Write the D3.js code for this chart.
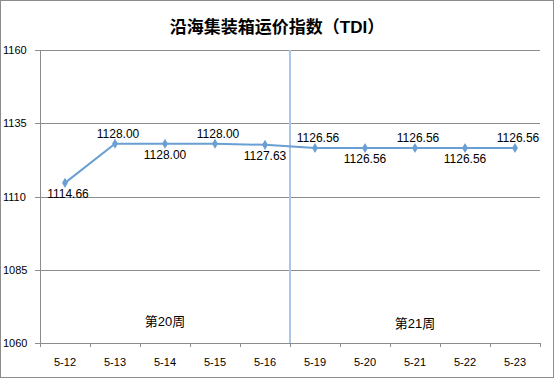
<!DOCTYPE html>
<html>
<head>
<meta charset="utf-8">
<script src="https://cdn.jsdelivr.net/npm/d3@7"></script>
<style>
  body { margin: 0; background: #fff; }
  text { font-family: "Liberation Sans", "Noto Sans CJK SC", sans-serif; fill: #000; }
</style>
</head>
<body>
<div id="chart-area"></div>
<script>
var dates = ["5-12", "5-13", "5-14", "5-15", "5-16", "5-19", "5-20", "5-21", "5-22", "5-23"];
var values = [1114.66, 1128.00, 1128.00, 1128.00, 1127.63, 1126.56, 1126.56, 1126.56, 1126.56, 1126.56];
var labelSide = ["below", "above", "below", "above", "below", "above", "below", "above", "below", "above"];
var yTicks = [1060, 1085, 1110, 1135, 1160];
var weeks = [{name: "第20周", from: "5-12", to: "5-16"}, {name: "第21周", from: "5-19", to: "5-23"}];

var width = 554;
var height = 378;
var plot = {left: 40, right: 540, top: 50, bottom: 343};
var lineColor = "#6a9fd4";

var svg = d3.select("#chart-area")
    .append("svg")
    .attr("width", width)
    .attr("height", height);

// outer border
svg.append("rect")
    .attr("x", 0.5).attr("y", 0.5)
    .attr("width", width - 1).attr("height", height - 1)
    .attr("fill", "none")
    .attr("stroke", "#8c8c8c");

svg.append("text")
    .attr("x", 277)
    .attr("y", 33)
    .attr("text-anchor", "middle")
    .attr("font-size", "17px")
    .attr("font-weight", "bold")
    .text("沿海集装箱运价指数（TDI）");

var x = d3.scaleBand()
    .domain(dates)
    .range([plot.left, plot.right]);

var y = d3.scaleLinear()
    .domain([1060, 1160])
    .range([plot.bottom, plot.top]);

// gridlines
svg.selectAll(".grid")
    .data(yTicks)
    .enter().append("line")
    .attr("class", "grid")
    .attr("x1", plot.left - 5)
    .attr("x2", plot.right)
    .attr("y1", (d) => Math.round(y(d)) + 0.5)
    .attr("y2", (d) => Math.round(y(d)) + 0.5)
    .attr("stroke", "#8c8c8c");

// y axis line
svg.append("line")
    .attr("x1", plot.left + 0.5).attr("x2", plot.left + 0.5)
    .attr("y1", plot.top).attr("y2", plot.bottom + 4)
    .attr("stroke", "#8c8c8c");

svg.selectAll(".ylab")
    .data(yTicks)
    .enter().append("text")
    .attr("class", "ylab")
    .attr("x", 3)
    .attr("y", (d) => y(d) + 4)
    .attr("font-size", "11px")
    .text((d) => d);

// x ticks at band boundaries
var bounds = dates.map((d) => x(d)).concat([plot.right]);
svg.selectAll(".xtick")
    .data(bounds)
    .enter().append("line")
    .attr("class", "xtick")
    .attr("x1", (d) => Math.round(d) + 0.5)
    .attr("x2", (d) => Math.round(d) + 0.5)
    .attr("y1", plot.bottom)
    .attr("y2", plot.bottom + 4)
    .attr("stroke", "#8c8c8c");

svg.selectAll(".xlab")
    .data(dates)
    .enter().append("text")
    .attr("class", "xlab")
    .attr("x", (d) => x(d) + x.bandwidth() / 2)
    .attr("y", plot.bottom + 23)
    .attr("text-anchor", "middle")
    .attr("font-size", "11px")
    .text((d) => d);

// week divider
svg.append("line")
    .attr("x1", x("5-19")).attr("x2", x("5-19"))
    .attr("y1", plot.top).attr("y2", plot.bottom)
    .attr("stroke", "#a9c8e6")
    .attr("stroke-width", 2);

svg.selectAll(".week")
    .data(weeks)
    .enter().append("text")
    .attr("class", "week")
    .attr("x", (d) => (x(d.from) + x(d.to) + x.bandwidth()) / 2)
    .attr("y", (d, i) => plot.bottom - 17 + i * 2)
    .attr("text-anchor", "middle")
    .attr("font-size", "13px")
    .text((d) => d.name);

var pts = dates.map((d, i) => ({date: d, value: values[i], side: labelSide[i]}));

var line = d3.line()
    .x((d) => x(d.date) + x.bandwidth() / 2)
    .y((d) => y(d.value));

svg.append("path")
    .datum(pts)
    .attr("d", line)
    .attr("fill", "none")
    .attr("stroke", lineColor)
    .attr("stroke-width", 2);

svg.selectAll(".pt")
    .data(pts)
    .enter().append("path")
    .attr("class", "pt")
    .attr("d", d3.symbol().type(d3.symbolDiamond).size(30))
    .attr("transform", (d) => "translate(" + (x(d.date) + x.bandwidth() / 2) + "," + y(d.value) + ")")
    .attr("fill", lineColor);

svg.selectAll(".vlab")
    .data(pts)
    .enter().append("text")
    .attr("class", "vlab")
    .attr("x", (d) => x(d.date) + x.bandwidth() / 2 + (d.side == "above" || d.date == "5-12" ? 3 : 0))
    .attr("y", (d) => d.side == "above" ? y(d.value) - 6 : y(d.value) + 15)
    .attr("text-anchor", "middle")
    .attr("font-size", "12px")
    .text((d) => d.value.toFixed(2));
</script>
</body>
</html>
